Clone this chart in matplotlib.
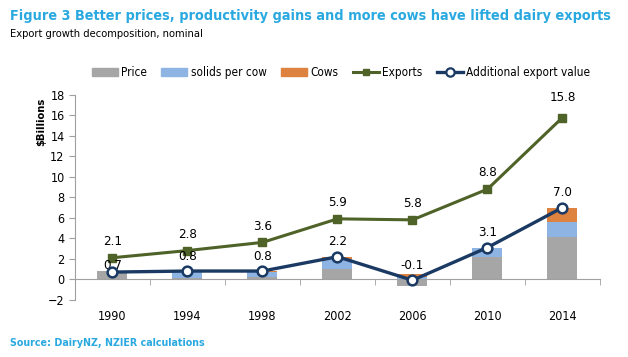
import matplotlib.pyplot as plt
import numpy as np
from matplotlib.patches import Patch
from matplotlib.lines import Line2D

years = ["1990", "1994", "1998", "2002", "2006", "2010", "2014"]
price = [0.8, 0.1, 0.2, 1.0, -0.65, 2.15, 4.1]
solids = [0.0, 0.6, 0.55, 0.95, 0.2, 0.95, 1.45]
cows = [-0.1, 0.1, 0.05, 0.25, 0.35, -0.05, 1.45]
exports = [2.1, 2.8, 3.6, 5.9, 5.8, 8.8, 15.8]
additional = [0.7, 0.8, 0.8, 2.2, -0.1, 3.1, 7.0]

blue_txt = "#2AA9E0"
c_price = "#A6A6A6"
c_solids = "#8DB4E2"
c_cows = "#DE8240"
c_exp = "#4F6228"
c_add = "#1B3A63"

plt.rcParams["font.family"] = "DejaVu Sans"
plt.rcParams["font.stretch"] = "condensed"

fig = plt.figure(figsize=(6.28, 3.57), dpi=100)
ax = fig.add_axes([0.1194, 0.1605, 0.836, 0.5734])

# stacked bars, negatives stacked downward from zero like Excel
x = np.arange(len(years))
pos_bottom = np.zeros(len(years))
neg_bottom = np.zeros(len(years))
for vals, col in [(price, c_price), (solids, c_solids), (cows, c_cows)]:
    vals = np.array(vals)
    bottom = np.where(vals >= 0, pos_bottom, neg_bottom)
    ax.bar(x, vals, 0.4, bottom=bottom, color=col, edgecolor="none", zorder=2)
    pos_bottom += np.where(vals >= 0, vals, 0)
    neg_bottom += np.where(vals < 0, vals, 0)

ax.plot(x, exports, color=c_exp, lw=2.2, marker="s", ms=6, zorder=3)
ax.plot(x, additional, color=c_add, lw=2.4, marker="o", ms=7,
        mfc="white", mec=c_add, mew=1.8, zorder=4)

for i, v in enumerate(exports):
    off = 10 if i == len(exports) - 1 else 7
    ax.annotate(f"{v:.1f}", (x[i], v), xytext=(0, off), textcoords="offset points",
                ha="center", va="bottom", fontsize=9.5)
for i, v in enumerate(additional):
    off = 0 if i == 0 else 6
    ax.annotate(f"{v:.1f}", (x[i], v), xytext=(0, off), textcoords="offset points",
                ha="center", va="bottom", fontsize=9.5)

ax.set_xlim(-0.5, 6.5)
ax.set_ylim(-2, 18)
ax.set_yticks(range(-2, 19, 2))
ax.set_xticks(x)
ax.set_xticklabels(years)
ax.set_xticks(np.arange(-0.5, 7, 1), minor=True)

for s in ["top", "right"]:
    ax.spines[s].set_visible(False)
ax.spines["bottom"].set_position(("data", 0))
ax.spines["bottom"].set_color("#A0A0A0")
ax.spines["left"].set_color("#A0A0A0")
ax.tick_params(axis="x", which="major", length=0, pad=22, labelsize=9)
ax.tick_params(axis="x", which="minor", length=4, color="#A0A0A0", direction="out")
ax.tick_params(axis="y", length=4, color="#A0A0A0", labelsize=9)

fig.text(0.016, 0.955, "Figure 3 Better prices, productivity gains and more cows have lifted dairy exports",
         color=blue_txt, fontsize=10.4, fontweight="bold", va="center")
fig.text(0.016, 0.905, "Export growth decomposition, nominal", fontsize=8, va="center")
fig.text(0.066, 0.66, "$Billions", rotation=90, fontsize=8, fontweight="bold",
         ha="center", va="center")
fig.text(0.016, 0.04, "Source: DairyNZ, NZIER calculations", color=blue_txt,
         fontsize=7.7, fontweight="bold", va="center")

handles = [
    Patch(color=c_price, label="Price"),
    Patch(color=c_solids, label="solids per cow"),
    Patch(color=c_cows, label="Cows"),
    Line2D([], [], color=c_exp, lw=2.2, marker="s", ms=5, label="Exports"),
    Line2D([], [], color=c_add, lw=2.4, marker="o", ms=6, mfc="white",
           mec=c_add, mew=1.6, label="Additional export value"),
]
fig.legend(handles=handles, loc="center", bbox_to_anchor=(0.543, 0.796), ncol=5,
           frameon=False, fontsize=8.5, handlelength=2.2, handletextpad=0.3,
           columnspacing=1.2)

fig.savefig("out.png", dpi=100)
